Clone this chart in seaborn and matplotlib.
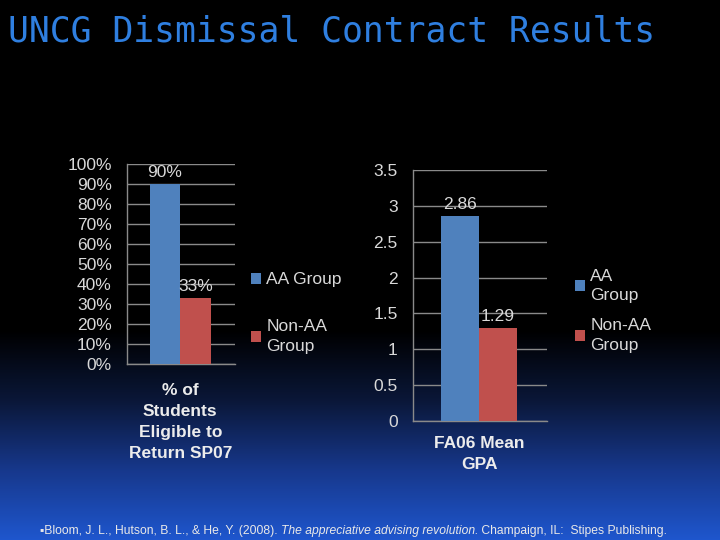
import numpy as np
import pandas as pd
import matplotlib
matplotlib.use('Agg')
import matplotlib.pyplot as plt
from matplotlib.ticker import PercentFormatter
import seaborn as sns

# values
groups = ['AA Group', 'Non-AA Group']
pct_eligible = [90, 33]
mean_gpa = [2.86, 1.29]
left_category = '% of\nStudents\nEligible to\nReturn SP07'
right_category = 'FA06 Mean\nGPA'
left_legend = ['AA Group', 'Non-AA\nGroup']
right_legend = ['AA\nGroup', 'Non-AA\nGroup']
bar_colors = ['#4F81BD', '#C0504D']

sns.set_theme(style='dark')
plt.rcParams['font.family'] = ['Liberation Sans', 'DejaVu Sans']

txt = '#d9d9d9'
grid = '#8a8a8a'

fig = plt.figure(figsize=(7.2, 5.4), dpi=100)
fig.patch.set_facecolor('black')

# slide background: black fading into blue towards the bottom
bg = fig.add_axes([0, 0, 1, 1], zorder=-5)
rows = np.arange(540)
stops_y = [0, 330, 400, 470, 540]
stops_c = np.array([[0, 0, 0], [0, 0, 0], [0.04, 0.09, 0.22],
                    [0.09, 0.22, 0.55], [0.12, 0.34, 0.81]])
col = np.stack([np.interp(rows, stops_y, stops_c[:, i]) for i in range(3)], axis=1)
bg.imshow(np.repeat(col[:, None, :], 2, axis=1), aspect='auto', extent=[0, 1, 0, 1])
bg.axis('off')


def draw(ax, cat, vals, ylim, yticks, xlim, fmt, legend_labels, leg_anchor,
         label_pad, leg_spacing):
    df = pd.DataFrame({'cat': [cat] * 2, 'group': groups, 'val': vals})
    sns.barplot(data=df, x='cat', y='val', hue='group', palette=bar_colors,
                saturation=1, width=0.8, ax=ax, zorder=3, linewidth=0,
                edgecolor='none')
    ax.set_facecolor('none')
    ax.set_xlim(*xlim)
    ax.set_ylim(*ylim)
    ax.set_yticks(yticks)
    ax.yaxis.grid(True, color=grid, linewidth=1)
    ax.xaxis.grid(False)
    for s in ['top', 'right']:
        ax.spines[s].set_visible(False)
    for s in ['left', 'bottom']:
        ax.spines[s].set_visible(True)
        ax.spines[s].set_color(grid)
        ax.spines[s].set_linewidth(1)
    ax.tick_params(axis='y', length=0, pad=11, labelsize=12.5, labelcolor=txt)
    ax.tick_params(axis='x', which='major', length=0, pad=label_pad, labelsize=12.5,
                   labelcolor='#ececec')
    for t in ax.get_xticklabels():
        t.set_fontweight('bold')
        t.set_linespacing(1.5)
    ax.set_xticks(list(xlim), minor=True)
    ax.tick_params(axis='x', which='minor', length=5, color=grid, width=1)
    ax.set_xlabel('')
    ax.set_ylabel('')
    for c in ax.containers:
        ax.bar_label(c, labels=[fmt(v) for v in c.datavalues], padding=3,
                     color=txt, fontsize=12.5)
    handles, _ = ax.get_legend_handles_labels()
    leg = ax.legend(handles, legend_labels, loc='center left', bbox_to_anchor=leg_anchor,
                    frameon=False, fontsize=12.5, labelcolor=txt, handlelength=0.6,
                    handleheight=0.6, handletextpad=0.3, labelspacing=leg_spacing)
    for t in leg.get_texts():
        t.set_linespacing(1.35)
    for h in leg.legend_handles:
        h.set_linewidth(0)


ax1 = fig.add_axes([127 / 720, 1 - 364 / 540, 108 / 720, 200 / 540])
draw(ax1, left_category, pct_eligible, (0, 100), np.arange(0, 101, 10), (-0.7, 0.72),
     lambda v: f'{v:.0f}%', left_legend, (1.0, 0.255), 14, 1.85)
ax1.yaxis.set_major_formatter(PercentFormatter(decimals=0))

ax2 = fig.add_axes([413 / 720, 1 - 421 / 540, 134 / 720, 251 / 540])
draw(ax2, right_category, mean_gpa, (0, 3.5), np.arange(0, 3.51, 0.5), (-0.695, 0.716),
     lambda v: f'{v:.2f}', right_legend, (1.09, 0.44), 11, 0.9)
ax2.set_yticklabels(['0', '0.5', '1', '1.5', '2', '2.5', '3', '3.5'])

fig.text(8 / 720, 1 - 42 / 540, 'UNCG Dismissal Contract Results',
         family='DejaVu Sans Mono', fontsize=25, color='#2f7fe0', va='baseline')

# citation line, with the book title in italics
renderer = fig.canvas.get_renderer()
parts = [('\u25aaBloom, J. L., Hutson, B. L., & He, Y. (2008). ', 'normal'),
         ('The appreciative advising revolution.', 'italic'),
         (' Champaign, IL:  Stipes Publishing.', 'normal')]
x = 40 / 720
for s, style in parts:
    t = fig.text(x, 1 - 534 / 540, s, fontsize=8.7, color='#e8e8e8', style=style,
                 family=['Liberation Sans', 'DejaVu Sans'], va='baseline')
    bb = t.get_window_extent(renderer)
    x += bb.width / 720

fig.savefig('out.png', dpi=100, facecolor=fig.get_facecolor())
